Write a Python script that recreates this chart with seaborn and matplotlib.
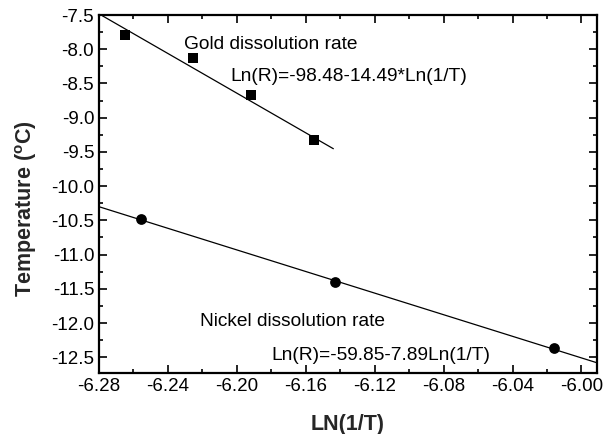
import numpy as np
import pandas as pd
import matplotlib
matplotlib.use("Agg")
import matplotlib.pyplot as plt
from matplotlib.ticker import MultipleLocator
import seaborn as sns

# ---- data ----
gold_x = [-6.265, -6.2255, -6.192, -6.155]
gold_y = [-7.79, -8.13, -8.67, -9.33]
nickel_x = [-6.2558, -6.1432, -6.0162]
nickel_y = [-10.48, -11.40, -12.37]

# fitted lines: Ln(R) = a + b * Ln(1/T)
gold_a, gold_b = -98.48, -14.49
gold_fit_x = [-6.278, -6.144]
nickel_a, nickel_b = -59.85, -7.89
nickel_fit_x = [-6.28, -5.991]

gold_label = "Gold dissolution rate"
gold_eq = "Ln(R)=-98.48-14.49*Ln(1/T)"
nickel_label = "Nickel dissolution rate"
nickel_eq = "Ln(R)=-59.85-7.89Ln(1/T)"

x_ticks = [-6.28, -6.24, -6.20, -6.16, -6.12, -6.08, -6.04, -6.00]
y_ticks = [-7.5, -8.0, -8.5, -9.0, -9.5, -10.0, -10.5, -11.0, -11.5, -12.0, -12.5]

sns.set_style("ticks")
plt.rcParams['font.family'] = ['Liberation Sans', 'DejaVu Sans']
plt.rcParams['mathtext.fontset'] = 'custom'
plt.rcParams['mathtext.rm'] = 'Liberation Sans'
plt.rcParams['mathtext.bf'] = 'Liberation Sans:bold'

fig = plt.figure(figsize=(6.04, 4.34), dpi=100)
ax = fig.add_axes([0.1639, 0.1406, 0.8245, 0.8248])

gold_df = pd.DataFrame({"x": gold_x, "y": gold_y})
nickel_df = pd.DataFrame({"x": nickel_x, "y": nickel_y})
gfit = pd.DataFrame({"x": gold_fit_x})
gfit["y"] = gold_a + gold_b * gfit["x"]
nfit = pd.DataFrame({"x": nickel_fit_x})
nfit["y"] = nickel_a + nickel_b * nfit["x"]

sns.lineplot(data=gfit, x="x", y="y", ax=ax, color="black", linewidth=0.9)
sns.lineplot(data=nfit, x="x", y="y", ax=ax, color="black", linewidth=0.9)
sns.scatterplot(data=gold_df, x="x", y="y", ax=ax, marker="s", s=55,
                color="black", edgecolor="black", linewidth=0, zorder=5)
sns.scatterplot(data=nickel_df, x="x", y="y", ax=ax, marker="o", s=60,
                color="black", edgecolor="black", linewidth=0, zorder=5)

ax.set_xlim(-6.28, -5.991)
ax.set_ylim(-12.73, -7.5)
ax.set_xticks(x_ticks)
ax.set_xticklabels([f"{v:.2f}" for v in x_ticks])
ax.set_yticks(y_ticks)
ax.set_yticklabels([f"{v:.1f}" for v in y_ticks])
ax.xaxis.set_minor_locator(MultipleLocator(0.02))
ax.yaxis.set_minor_locator(MultipleLocator(0.25))
ax.tick_params(which="both", direction="in", top=True, right=True, width=1.2,
               labelsize=13.5, colors="black")
ax.tick_params(which="major", length=6)
ax.tick_params(which="minor", length=3)
for sp in ax.spines.values():
    sp.set_visible(True)
    sp.set_linewidth(1.6)
    sp.set_color("black")

ax.set_xlabel("LN(1/T)", fontsize=15.5, fontweight="bold", labelpad=14)
ax.set_ylabel(r"Temperature ($^{\mathbf{o}}$C)", fontsize=15.5, fontweight="bold")
ax.yaxis.set_label_coords(-0.121, 0.458)

tkw = dict(fontsize=13.8, color="black", va="center", ha="left")
ax.text(-6.2305, -7.93, gold_label, **tkw)
ax.text(-6.2035, -8.40, gold_eq, **tkw)
ax.text(-6.2216, -11.98, nickel_label, **tkw)
ax.text(-6.180, -12.48, nickel_eq, **tkw)

fig.savefig("out.png", dpi=100)
